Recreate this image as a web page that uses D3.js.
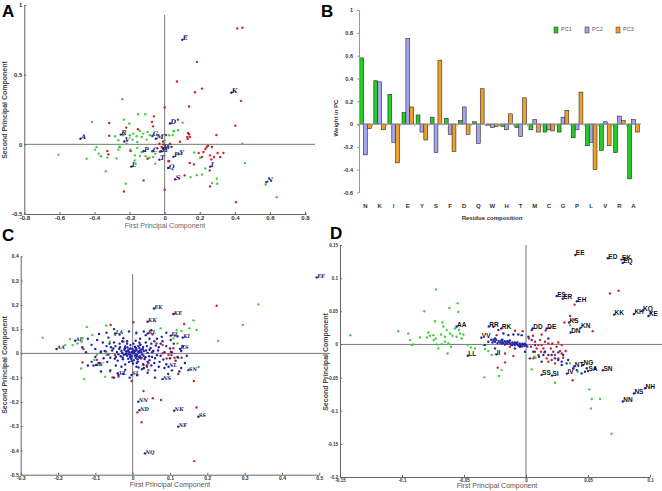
<!DOCTYPE html>
<html><head><meta charset="utf-8">
<script src="https://cdn.jsdelivr.net/npm/d3@7"></script>
<style>
body{margin:0;background:#fff}
svg{display:block;font-family:"Liberation Sans",Arial,sans-serif}
</style></head><body>
<script>
// ---- panel B : weights of each residue in the first three PCs
var residues = ["N","K","I","E","Y","S","F","D","Q","W","H","T","M","C","G","P","L","V","R","A"];
var pc1 = [0.58,0.38,0.26,0.10,0.08,0.06,0.05,0.03,0.02,-0.01,-0.02,-0.03,-0.05,-0.07,-0.07,-0.12,-0.19,-0.23,-0.25,-0.48];
var pc2 = [-0.27,0.37,-0.16,0.75,-0.07,-0.25,-0.09,0.15,-0.17,-0.03,-0.05,-0.11,0.04,-0.05,0.06,-0.05,-0.16,0.02,0.07,0.04];
var pc3 = [-0.04,-0.05,-0.34,0.15,-0.14,0.56,-0.24,-0.09,0.31,-0.02,0.09,0.23,-0.07,-0.06,0.12,0.28,-0.40,-0.19,0.03,-0.07];
var pcNames = ["PC1","PC2","PC3"];
var pcColors = ["#22cc22","#a3a3ee","#f0a028"];

// ---- panel A : scores (red / green groups); labelled loadings come from pc1/pc2
var redA = [[0.414,0.832],[0.443,0.837],[0.184,0.592],[0.070,0.451],[0.213,0.400],[0.173,0.374],[0.435,0.312],[0.139,0.271],[0.000,0.264],[0.403,0.134],[0.076,0.177],[-0.061,0.201],[-0.072,0.161],[-0.066,0.129],[-0.316,0.153],[-0.219,0.120],[-0.316,0.062],[-0.152,0.108],[0.133,0.082],[0.139,0.072],[0.129,0.053],[0.144,0.053],[0.295,0.067],[0.087,0.019],[0.131,0.038],[0.008,0.067],[-0.030,0.005],[-0.017,-0.019],[-0.008,0.000],[0.030,0.005],[0.040,-0.019],[-0.042,-0.029],[-0.027,-0.053],[0.247,-0.010],[0.240,-0.019],[0.232,-0.034],[0.270,-0.019],[0.221,-0.055],[0.194,-0.062],[0.259,-0.079],[0.302,-0.062],[0.335,-0.062],[0.316,-0.091],[0.281,-0.091],[0.266,-0.108],[0.213,-0.091],[-0.194,-0.048],[-0.327,-0.048],[-0.321,-0.072],[-0.097,-0.103],[0.143,-0.134],[0.167,-0.144],[0.114,-0.223],[0.257,-0.187],[-0.120,-0.259],[-0.232,-0.338],[0.000,-0.326],[0.259,-0.302],[0.407,-0.415],[0.021,-0.122],[0.026,-0.120],[-0.010,0.020]];
var greenA = [[-0.241,0.324],[-0.414,0.161],[-0.152,0.216],[-0.110,0.216],[-0.232,0.177],[-0.202,0.149],[0.103,0.156],[0.076,0.101],[0.051,0.094],[-0.141,0.096],[-0.179,0.077],[-0.122,0.077],[-0.097,0.089],[-0.160,0.058],[-0.131,0.053],[-0.084,0.065],[-0.103,0.034],[-0.183,0.034],[-0.217,0.005],[-0.156,0.017],[-0.264,0.029],[-0.255,-0.019],[-0.283,0.058],[-0.236,0.065],[-0.198,0.065],[-0.388,-0.019],[-0.397,-0.038],[-0.376,-0.067],[-0.363,-0.086],[-0.327,-0.096],[-0.264,-0.038],[-0.259,-0.019],[-0.274,-0.101],[-0.196,-0.038],[-0.156,-0.026],[-0.131,-0.055],[-0.169,-0.079],[-0.141,-0.084],[-0.108,-0.086],[-0.065,-0.091],[-0.053,-0.139],[-0.171,-0.115],[-0.165,-0.139],[-0.087,-0.096],[-0.053,-0.067],[-0.605,-0.074],[-0.445,-0.103],[-0.335,-0.194],[-0.221,-0.283],[0.458,-0.134],[0.443,0.005],[0.169,-0.058],[0.202,-0.096],[0.232,-0.173],[0.213,-0.216],[0.183,-0.221],[0.148,-0.235],[0.297,-0.247],[0.270,-0.278],[0.300,-0.283],[0.576,-0.288],[0.639,-0.379],[0.053,0.096],[0.026,0.065],[0.046,0.067],[0.000,0.029]];

// ---- panel C : dipeptide scores
var redC = [[0.225,0.196],[0.138,0.121],[0.113,0.073],[0.053,0.078],[-0.059,0.117],[0.002,0.128],[-0.132,0.018],[-0.134,-0.037],[-0.096,-0.027],[-0.086,0.004],[-0.071,0.007],[-0.047,-0.007],[-0.038,-0.096],[-0.054,-0.099],[0.024,-0.018],[0.029,-0.048],[0.038,-0.055],[0.042,-0.069],[0.029,-0.155],[0.054,-0.185],[0.076,-0.192],[0.0125,-0.243],[0.024,-0.284],[0.171,-0.223],[0.164,-0.114],[0.122,-0.085],[0.165,-0.444],[-0.003,-0.114],[0.091,-0.021],[0.096,-0.007],[0.104,-0.007],[0.112,-0.018],[0.122,-0.018],[0.131,-0.018],[0.080,0.000],[0.064,0.041],[0.080,0.034],[0.020,0.034],[0.055,0.010],[0.006,0.027],[-0.025,0.048],[0.018,0.007],[0.042,-0.041],[0.102,0.007],[0.109,0.021]];
var greenC = [[-0.241,0.065],[-0.123,0.109],[-0.071,0.115],[-0.108,0.076],[-0.168,0.059],[-0.161,0.034],[-0.148,0.041],[-0.137,0.048],[-0.134,0.062],[-0.181,0.034],[-0.138,-0.062],[-0.130,-0.106],[-0.103,-0.027],[-0.088,-0.048],[-0.074,-0.096],[-0.061,-0.076],[0.009,0.082],[0.075,0.103],[0.118,0.096],[0.131,0.092],[0.163,0.136],[0.152,0.103],[0.171,0.096],[0.109,0.062],[0.120,0.041],[0.337,0.202],[0.295,0.117],[0.229,0.051],[0.177,-0.056],[0.029,-0.062],[-0.061,0.048],[-0.047,0.076],[-0.070,-0.007],[-0.096,-0.007]];
var blueC = [[0,0],[0.005,0.008],[-0.008,0.004],[0.012,-0.006],[-0.015,-0.01],[0.02,0.012],[-0.022,0.015],[0.008,-0.018],[-0.005,0.02],[0.018,0.022],[-0.012,-0.022],[0.025,-0.004],[-0.028,0.002],[0.003,-0.028],[0.015,0.03],[-0.02,0.028],[0.03,0.01],[-0.032,-0.012],[0.01,0.015],[-0.003,-0.012],[0.022,-0.02],[-0.018,0.008],[0.006,0.026],[-0.026,-0.024],[0.034,-0.016],[-0.006,0.034],[0.028,0.026],[0.014,-0.034],[-0.036,0.018],[-0.01,-0.036],[0.04,0.002],[-0.042,0.006],[0.002,0.04],[0.001,-0.042],[0.038,0.03],[-0.04,-0.03],[0.045,-0.028],[-0.046,0.03],[0.018,0.044],[-0.02,-0.046],
  [0.055,0.01],[-0.055,0.012],[0.06,-0.02],[-0.06,-0.018],[0.05,0.04],[-0.05,0.045],[0.05,-0.05],[-0.045,-0.05],[0.07,0.025],[-0.07,0.03],[0.072,-0.035],[-0.068,-0.035],[0.02,0.06],[-0.025,0.062],[0.025,-0.065],[-0.02,-0.068],[0.085,0.005],[-0.085,0.008],[0.08,0.05],[-0.08,0.045],[0.09,-0.045],[-0.09,-0.04],[0.035,0.075],[-0.035,0.078],[0.04,-0.08],[-0.04,-0.082],[0.065,0.06],[-0.065,0.065],[0.06,-0.07],[-0.06,-0.07],[0.1,0.02],[-0.1,0.018],[0.1,-0.02],[-0.1,-0.015],[0.01,0.085],[-0.01,0.09],[0.012,-0.09],[-0.008,-0.1],[0.11,0.04],[-0.11,0.035],[0.115,-0.03],[-0.11,-0.035],
  [0.13,0.01],[-0.125,0.005],[0.12,0.07],[-0.12,0.06],[0.13,-0.06],[-0.12,-0.05],[0.05,0.095],[-0.05,0.1],[0.06,-0.1],[-0.05,-0.1],[0.145,-0.01],[-0.135,0.025],[0.09,0.085],[-0.09,0.08],[0.095,-0.085],[-0.085,-0.075],
  [0.004,0.002],[-0.002,0.006],[0.009,-0.003],[-0.01,-0.004],[0.007,0.011],[-0.013,0.012],[0.016,0.004],[-0.006,-0.007],[0.011,-0.012],[-0.016,0.0],[0.0,0.016],[0.019,-0.012],[-0.009,0.018],[0.024,0.016],[-0.024,-0.006],[0.013,-0.024],[-0.014,0.024],[0.029,-0.01],[-0.03,0.01],[-0.004,-0.022],
  [0.035,0.045],[0.045,0.015],[0.062,0.032],[0.075,-0.01],[0.068,0.012],[0.052,-0.015],[0.038,-0.05],[0.058,-0.04],[0.082,-0.025],[0.03,-0.06],[-0.035,0.04],[-0.045,-0.015],[-0.058,0.025],[-0.03,-0.055],[-0.075,0.01],[-0.015,0.05],[0.01,-0.055],[0.045,0.06],[-0.065,-0.005],[0.09,0.03],
  [0.002,0.011],[-0.007,-0.015],[0.014,0.008],[-0.019,-0.004],[0.023,0.005],[0.006,-0.009],[-0.011,0.008],[0.017,-0.016],[-0.021,0.021],[0.027,0.018],[-0.027,-0.017],[0.009,0.021],[-0.003,-0.032],[0.032,-0.023],[-0.034,0.025],[0.021,0.036],[-0.015,0.04],[0.036,0.012],[-0.038,-0.004],[0.011,-0.04],
  [0.048,0.022],[-0.048,-0.022],[0.052,0.005],[-0.052,0.02],[0.044,-0.012],[0.065,-0.008],[-0.062,0.04],[0.058,0.05],[0.075,0.04],[-0.078,-0.02],[0.085,-0.06],[0.07,-0.055],[0.105,0.005],[0.12,-0.015],[0.135,0.03],[0.102,0.055],[-0.095,0.055],[-0.105,-0.05],[0.04,-0.035],[0.028,-0.045],
  [0.008,0.052],[-0.028,0.05],[0.016,-0.058],[0.078,0.068],[0.14,-0.04],[0.125,-0.075],[0.105,-0.07],[-0.025,-0.085],[0.03,0.09],[-0.07,0.085]];
var labC = ["AA","AL","LA","EK","KE","KK","KL","EL","KI","KS","LV","VL","SL","NL","SN","NS","NN","ND","NK","SS","NE","NQ","EE"];
var labCx = [-0.204,-0.154,-0.047,0.057,0.109,0.040,0.040,0.102,0.134,0.127,-0.098,-0.038,-0.003,0.096,0.149,0.080,0.015,0.018,0.111,0.176,0.122,0.033,0.493];
var labCy = [0.018,0.052,0.082,0.185,0.162,0.130,0.082,0.073,0.065,0.018,-0.048,-0.089,-0.089,-0.055,-0.069,-0.106,-0.199,-0.234,-0.236,-0.261,-0.302,-0.412,0.313];

// ---- panel D : dipeptide scores
var redD = [[0.0747,0.081],[0.0677,0.077],[0.0392,0.060],[0.0355,0.043],[0.039,0.037],[0.031,0.033],[0.0538,0.020],[0.0159,0.021],[0.0126,0.015],[0.0194,0.025],[0.0024,0.009],[0.0056,0.013],[0.0073,0.004],[0.010,-0.001],[0.0086,-0.006],[0.0126,-0.001],[0.014,-0.006],[0.0153,0.004],[0.018,0.0015],[0.0212,0.0015],[0.026,0.003],[0.0247,-0.0035],[0.022,-0.011],[0.0234,-0.016],[0.0274,-0.010],[0.0288,-0.0136],[0.026,-0.021],[0.0207,-0.0236],[0.0167,-0.021],[0.0121,-0.011],[0.0073,-0.011],[0.004,-0.0035],[0.010,-0.016],[0.0059,-0.021],[0.018,-0.026],[0.0234,-0.0286],[0.032,-0.010],[-0.0102,-0.0176],[-0.0169,-0.027],[-0.0228,-0.035],[-0.0169,-0.0136],[-0.0129,-0.0035],[-0.0027,0.020],[-0.0089,0.0206],[-0.0237,0.014],[0.0376,-0.054],[0.0113,0.0065],[0.0148,-0.012],[0.020,-0.006],[0.0288,-0.001],[0.030,-0.020]];
var greenD = [[-0.0726,0.083],[-0.0618,0.055],[-0.0551,0.062],[-0.0546,0.049],[-0.082,0.050],[-0.0734,0.035],[-0.0675,0.033],[-0.0667,0.027],[-0.064,0.0216],[-0.0613,0.0166],[-0.0573,0.024],[-0.054,0.0216],[-0.0532,0.0166],[-0.0505,0.015],[-0.0559,0.0116],[-0.0594,0.013],[-0.0653,0.0116],[-0.0685,0.015],[-0.0747,0.014],[-0.0774,0.013],[-0.0798,0.0106],[-0.0745,0.0065],[-0.0718,0.0],[-0.0707,-0.006],[-0.0653,0.004],[-0.0626,0.0015],[-0.0605,-0.0035],[-0.0632,-0.0136],[-0.068,0.0005],[-0.0855,0.0106],[-0.0909,0.0],[-0.0922,-0.001],[-0.0935,0.0065],[-0.0949,0.0166],[-0.103,0.020],[-0.0788,0.018],[-0.0728,0.009],[-0.0519,0.009],[-0.047,-0.001],[-0.0444,-0.0045],[-0.0411,-0.006],[-0.0344,-0.001],[-0.0331,-0.007],[-0.0304,-0.010],[-0.0277,-0.016],[-0.0263,0.008],[-0.0196,-0.0387],[-0.0336,-0.0497],[-0.0218,-0.0477],[-0.1417,0.014],[0.0067,-0.0186],[0.0078,-0.020],[0.0046,-0.0377],[0.0234,-0.0578],[0.0355,-0.0286],[0.051,-0.0678],[0.053,-0.0824],[0.0597,-0.0824],[0.0524,-0.0965],[0.069,-0.1347],[0.0417,-0.0412],[0.0355,0.0291]];
var blueD = [[-0.028,0.007],[-0.026,0.006],[-0.025,0.004],[-0.024,0.007],[-0.022,0.005],[-0.021,0.003],[-0.02,0.006],[-0.019,0.004],[-0.018,0.002],[-0.017,0.005],[-0.016,0.003],[-0.015,0.001],[-0.014,0.004],[-0.013,0.002],[-0.012,0.0],[-0.011,0.003],[-0.01,0.001],[-0.009,-0.001],[-0.008,0.002],[-0.007,0.0],[-0.006,-0.002],[-0.005,0.001],[-0.004,-0.001],[-0.003,-0.003],[-0.002,0.0],[-0.001,-0.002],[0.0,-0.001],[0.001,-0.003],[-0.023,0.002],[-0.019,0.007],[-0.015,0.005],[-0.011,-0.001],[-0.007,0.003],[-0.003,0.001],[-0.027,0.003],[-0.013,0.006],[-0.009,0.003],[-0.005,-0.003],[-0.017,0.0],[-0.001,0.001],
  [-0.0183,0.0166],[-0.0142,0.014],[-0.0102,0.015],[-0.0062,0.015],[-0.0035,0.014],[0.0019,0.0116],[0.0046,0.0065],[0.0059,-0.011],[0.0105,-0.0186],[0.014,-0.016],[0.018,-0.016],[0.0207,-0.016],[0.0234,-0.021],[0.026,-0.0236],[0.0288,-0.026],[0.0328,-0.0286],[0.0382,-0.036],[0.0409,-0.0387],[0.0449,-0.0437],[0.0476,-0.0412],[0.0556,-0.036],[0.0032,-0.021],[-0.0008,-0.011],[-0.0196,0.0015],[-0.0304,0.004],[-0.0331,-0.001],[-0.025,-0.006],[-0.0048,-0.0035],[-0.0089,-0.006],[-0.0263,0.0266],[-0.0223,0.0216],[-0.025,0.009],[0.0073,-0.001],[0.0153,-0.011],[0.0288,-0.031],[0.026,-0.012],[0.018,0.009],[0.0046,0.0216],[0.030,-0.016],[0.034,-0.0236],[0.049,-0.036],[0.0126,-0.026]];
var labD = ["EE","ED","EK","EQ","ES","ER","EH","KS","KN","DN","KK","KH","KQ","KE","AA","RR","RK","DD","DE","VV","LL","II","SS","SI","IV","NT","NG","SA","SN","NS","NH","NN"];
var labDx = [0.0398,0.066,0.077,0.078,0.0247,0.0296,0.041,0.0347,0.044,0.036,0.071,0.087,0.094,0.0987,-0.056,-0.030,-0.020,0.0054,0.0167,-0.036,-0.047,-0.024,0.0126,0.021,0.033,0.039,0.046,0.050,0.062,0.087,0.096,0.078];
var labDy = [0.135,0.130,0.128,0.123,0.073,0.069,0.065,0.033,0.025,0.018,0.045,0.046,0.051,0.043,0.027,0.027,0.024,0.024,0.024,0.010,-0.017,-0.015,-0.046,-0.047,-0.044,-0.033,-0.031,-0.040,-0.039,-0.074,-0.066,-0.086];

var RED = "#c8262a", GREEN = "#3fd03f", BLUE = "#2424a8", NAVY = "#1c1c5c";
var fmt = function(d) { return d === 0 ? "0" : String(+d.toFixed(2)); };

var svg = d3.select("body").append("svg").attr("width", 662).attr("height", 491);
svg.append("rect").attr("width", 662).attr("height", 491).attr("fill", "#fff");

function frame(x, y, xt, yt, fs) {
  var gx = svg.append("g").attr("transform", "translate(0," + y.range()[0] + ")")
    .call(d3.axisBottom(x).tickValues(xt).tickSize(-2).tickSizeOuter(0).tickPadding(2).tickFormat(fmt));
  var gy = svg.append("g").attr("transform", "translate(" + x.range()[0] + ",0)")
    .call(d3.axisLeft(y).tickValues(yt).tickSize(-2).tickSizeOuter(0).tickPadding(2).tickFormat(fmt));
  [gx, gy].forEach(function(g) {
    g.select(".domain").attr("stroke", "#666");
    g.selectAll(".tick line").attr("stroke", "#666");
    g.selectAll("text").attr("font-size", fs).attr("font-weight", "bold").attr("fill", "#333").attr("font-family", "Liberation Sans");
  });
}
function cross(x, y, x1, y0, y1) {
  svg.append("line").attr("x1", x(0)).attr("x2", x(0)).attr("y1", y0).attr("y2", y1).attr("stroke", "#777").attr("stroke-width", 1);
  svg.append("line").attr("x1", x.range()[0]).attr("x2", x1).attr("y1", y(0)).attr("y2", y(0)).attr("stroke", "#777").attr("stroke-width", 1);
}
function dots(x, y, pts, color, r) {
  svg.append("g").selectAll("circle").data(pts).enter().append("circle")
    .attr("cx", function(d) { return x(d[0]); })
    .attr("cy", function(d) { return y(d[1]); })
    .attr("r", r || 1.2).attr("fill", color);
}
function labels(x, y, names, xs, ys, fill, font, size, style) {
  var g = svg.append("g");
  names.forEach(function(n, i) {
    g.append("circle").attr("cx", x(xs[i])).attr("cy", y(ys[i])).attr("r", 1.2).attr("fill", BLUE);
    g.append("text").attr("x", x(xs[i]) + 0.5).attr("y", y(ys[i]) + 0.5).text(n)
      .attr("fill", fill).attr("font-family", font).attr("font-size", size)
      .attr("font-weight", "bold").attr("font-style", style);
  });
}
function title(txt, x, y, rot, size, color, weight) {
  svg.append("text").attr("transform", "translate(" + x + "," + y + ")" + (rot ? " rotate(-90)" : ""))
    .attr("text-anchor", "middle").attr("font-size", size).attr("fill", color)
    .attr("font-weight", weight).text(txt);
}

// ================= A =================
var xA = d3.scaleLinear().domain([-0.8, 0.8]).range([24.3, 305]);
var yA = d3.scaleLinear().domain([-0.5, 1]).range([214, 5]);
cross(xA, yA, 315, 15, 214);
frame(xA, yA, d3.range(-0.8, 0.81, 0.2).map(function(v){return +v.toFixed(1);}), [-0.5, 0, 0.5, 1], 6);
svg.append("line").attr("x1", 305).attr("x2", 307).attr("y1", 214).attr("y2", 214).attr("stroke", "#666");
dots(xA, yA, greenA, GREEN);
dots(xA, yA, redA, RED);
labels(xA, yA, residues, pc1, pc2, NAVY, "DejaVu Serif", 6.5, "italic");
title("First Principal Component", 165, 228, false, 7, "#666", "normal");
title("Second Principal Component", 7, 110, true, 7, "#444", "bold");

// ================= B =================
var xB = d3.scaleBand().domain(residues).range([359, 640]).paddingInner(0.18).paddingOuter(0.05);
var sB = d3.scaleBand().domain(pcNames).range([0, xB.bandwidth()]);
var yB = d3.scaleLinear().domain([-0.6, 1]).range([192.5, 10]);
var series = [pc1, pc2, pc3];
series.forEach(function(vals, s) {
  svg.append("g").selectAll("rect").data(vals).enter().append("rect")
    .attr("x", function(d, i) { return xB(residues[i]) + sB(pcNames[s]); })
    .attr("y", function(d) { return yB(Math.max(0, d)); })
    .attr("width", sB.bandwidth())
    .attr("height", function(d) { return Math.abs(yB(d) - yB(0)); })
    .attr("fill", pcColors[s]).attr("stroke", "#2a2a2a").attr("stroke-width", 0.6);
});
var gyB = svg.append("g").attr("transform", "translate(359,0)")
  .call(d3.axisLeft(yB).tickValues([-0.6, -0.4, -0.2, 0, 0.2, 0.4, 0.6, 0.8, 1]).tickSize(2).tickSizeOuter(0).tickPadding(4).tickFormat(fmt));
gyB.select(".domain").attr("stroke", "#999");
gyB.selectAll(".tick line").attr("stroke", "#999");
gyB.selectAll("text").attr("font-size", 5.5).attr("font-weight", "bold").attr("fill", "#333");
svg.append("line").attr("x1", 359).attr("x2", 641).attr("y1", yB(0)).attr("y2", yB(0)).attr("stroke", "#999");
svg.append("g").selectAll("line").data(residues).enter().append("line")
  .attr("x1", function(d) { return xB(d) - xB.step() * 0.09; }).attr("x2", function(d) { return xB(d) - xB.step() * 0.09; })
  .attr("y1", yB(0)).attr("y2", yB(0) + 2).attr("stroke", "#999");
svg.append("g").selectAll("text").data(residues).enter().append("text")
  .attr("x", function(d) { return xB(d) + xB.bandwidth() / 2; }).attr("y", 208)
  .attr("text-anchor", "middle").attr("font-size", 6).attr("font-weight", "bold").attr("fill", "#333").text(function(d) { return d; });
title("Residue composition", 492, 220, false, 6, "#333", "bold");
title("Weight in PC", 338, 118, true, 6, "#333", "bold");
pcNames.forEach(function(n, i) {
  var lx = 554 + i * 31;
  svg.append("rect").attr("x", lx).attr("y", 27).attr("width", 4).attr("height", 6)
    .attr("fill", pcColors[i]).attr("stroke", "#2a2a2a").attr("stroke-width", 0.5);
  svg.append("text").attr("x", lx + 7).attr("y", 30.5).attr("font-size", 5.5).attr("fill", "#555").text(n);
});

// ================= C =================
var xC = d3.scaleLinear().domain([-0.3, 0.5]).range([20.7, 319.3]);
var yC = d3.scaleLinear().domain([-0.5, 0.4]).range([474.7, 256.3]);
cross(xC, yC, 330, 274, 474.7);
frame(xC, yC, [-0.3,-0.2,-0.1,0,0.1,0.2,0.3,0.4,0.5], [-0.5,-0.4,-0.3,-0.2,-0.1,0,0.1,0.2,0.3,0.4], 5);
dots(xC, yC, greenC, GREEN);
dots(xC, yC, redC, RED);
dots(xC, yC, blueC, BLUE);
labels(xC, yC, labC, labCx, labCy, NAVY, "DejaVu Serif", 5, "italic");
title("First Principal Component", 170, 487, false, 7, "#555", "normal");
title("Second Principal Component", 7, 365, true, 7, "#444", "bold");

// ================= D =================
var xD = d3.scaleLinear().domain([-0.15, 0.1]).range([340, 650]);
var yD = d3.scaleLinear().domain([-0.2, 0.15]).range([477, 245]);
cross(xD, yD, 662, 245, 477);
frame(xD, yD, [-0.15,-0.1,-0.05,0,0.05,0.1], [-0.2,-0.15,-0.1,-0.05,0,0.05,0.1,0.15], 4.5);
dots(xD, yD, greenD, GREEN);
dots(xD, yD, redD, RED);
dots(xD, yD, blueD, BLUE);
labels(xD, yD, labD, labDx, labDy, "#111", "Liberation Sans", 6.5, "normal");
title("First Principal Component", 497, 488, false, 7, "#555", "normal");
title("Second Principal Component", 328, 362, true, 7, "#444", "bold");

// panel letters
[["A", 2, 17], ["B", 321, 17], ["C", 2, 241], ["D", 330, 239]].forEach(function(p) {
  svg.append("text").attr("x", p[1]).attr("y", p[2]).attr("font-size", 17).attr("font-weight", "bold").attr("fill", "#000").text(p[0]);
});
</script>
</body></html>
